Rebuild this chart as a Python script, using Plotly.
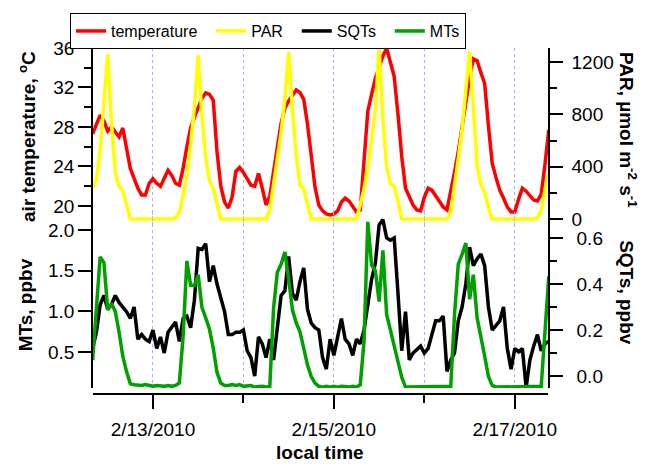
import plotly.graph_objects as go
import pandas as pd

# hourly time grid, 2010-02-12 08:00 .. 2010-02-17 09:00
time = pd.date_range("2010-02-12 08:00", periods=122, freq="h")

temperature = [
    27.3, 28.2, 29.2, 28.6, 27.6, 28.0, 27.5, 27.0, 27.9, 26.0, 23.8, 22.8,
    21.8, 21.1, 21.1, 22.3, 22.75, 22.3, 22.0, 22.8, 23.6, 23.1, 22.3, 22.1,
    23.8, 26.0, 27.9, 29.0, 30.0, 30.9, 31.45, 31.3, 30.7, 25.5, 22.0, 20.4,
    19.8, 20.9, 23.5, 23.9, 23.4, 22.8, 22.1, 22.0, 23.3, 21.8, 20.1, 21.0,
    23.5, 26.2, 28.4, 29.9, 30.65, 31.2, 31.75, 31.5, 30.8, 28.3, 25.1, 21.9,
    20.1, 19.5, 19.2, 19.1, 19.2, 19.5, 20.4, 20.8, 20.5, 19.9, 19.4, 19.6,
    25.0, 29.6, 31.3, 32.9, 34.0, 35.2, 35.97, 34.5, 33.1, 29.3, 25.0, 21.8,
    21.0, 20.1, 19.6, 19.5, 20.9, 21.8, 21.6, 21.0, 20.45, 19.9, 19.6, 21.3,
    23.4, 25.5, 28.1, 30.6, 33.0, 34.9, 34.7, 33.5, 32.4, 28.1, 24.3, 22.9,
    21.6, 20.8, 19.9, 19.4, 19.4, 20.7, 21.8, 21.5, 21.1, 20.6, 20.5, 21.2,
    24.2, 27.7,
]

par = [
    240, 300, 530, 914, 1260, 730, 360, 250, 215, 110, 0, 0,
    0, 0, 0, 0, 0, 0, 0, 0, 0, 0, 10, 50,
    182, 340, 572, 851, 1253, 780, 470, 290, 235, 127, 0, 0,
    0, 0, 0, 0, 0, 0, 0, 0, 0, 0, 0, 69,
    270, 465, 660, 918, 1280, 833, 480, 260, 230, 110, 0, 0,
    0, 0, 0, 0, 0, 0, 0, 0, 0, 0, 0, 110,
    230, 390, 595, 830, 1305, 760, 400, 270, 250, 140, 0, 0,
    0, 0, 0, 0, 0, 0, 0, 0, 0, 0, 0, 50,
    240, 460, 690, 1000, 1280, 850, 400, 268, 200, 90, 0, 0,
    0, 0, 0, 0, 0, 0, 0, 0, 0, 0, 10, 65,
    220, 362,
]

sqts = [
    0.12, 0.19, 0.31, 0.35, 0.29, 0.31, 0.35, 0.32, 0.30, 0.28, 0.25, 0.30,
    0.16, 0.18, 0.16, 0.15, 0.20, 0.12, 0.17, 0.10, 0.19, 0.215, 0.235, 0.15,
    0.25, 0.26, 0.21, 0.33, 0.555, 0.55, 0.575, 0.41, 0.48, 0.40, 0.34, 0.28,
    0.18, 0.18, 0.19, 0.19, 0.20, 0.11, 0.08, 0.00, 0.17, 0.14, 0.08, 0.16,
    0.07, 0.20, 0.35, 0.37, 0.52, 0.36, 0.33, 0.41, 0.47, 0.29, 0.23, 0.21,
    0.20, 0.08, 0.03, 0.16, 0.09, 0.17, 0.25, 0.16, 0.14, 0.09, 0.16, 0.14,
    0.20, 0.31, 0.42, 0.49, 0.657, 0.68, 0.60, 0.59, 0.60, 0.36, 0.11, 0.28,
    0.07, 0.10, 0.115, 0.13, 0.10, 0.12, 0.18, 0.24, 0.24, 0.26, 0.02, 0.07,
    0.10, 0.24, 0.30, 0.40, 0.56, 0.48, 0.51, 0.53, 0.48, 0.30, 0.20, 0.22,
    0.24, 0.30, 0.12, 0.03, 0.12, 0.105, 0.12, -0.05, 0.07, 0.13, 0.18, 0.11,
    0.14, 0.15,
]

mts = [
    0.40, 1.07, 1.67, 1.60, 1.02, 1.10, 1.00, 0.75, 0.45, 0.26, 0.11, 0.10,
    0.09, 0.09, 0.10, 0.09, 0.08, 0.09, 0.08, 0.08, 0.09, 0.08, 0.09, 0.12,
    0.69, 1.62, 1.32, 1.32, 1.45, 1.05, 0.92, 0.78, 0.55, 0.25, 0.12, 0.09,
    0.09, 0.10, 0.09, 0.10, 0.08, 0.08, 0.09, 0.07, 0.08, 0.08, 0.07, 0.08,
    1.04, 1.48, 1.58, 1.73, 1.40, 1.02, 0.86, 0.75, 0.55, 0.34, 0.20, 0.12,
    0.08, 0.07, 0.08, 0.07, 0.08, 0.07, 0.08, 0.07, 0.07, 0.08, 0.07, 0.10,
    0.63, 2.10, 1.57, 1.50, 1.12, 1.75, 0.96, 0.77, 0.57, 0.36, 0.19, 0.07,
    0.07, 0.08, 0.07, 0.08, 0.07, 0.07, 0.08, 0.07, 0.07, 0.08, 0.07, 0.08,
    0.96, 1.58, 1.70, 1.84, 1.15, 1.45, 0.92, 0.70, 0.45, 0.20, 0.09, 0.07,
    0.07, 0.08, 0.07, 0.07, 0.08, 0.07, 0.08, 0.07, 0.07, 0.08, 0.07, 0.08,
    0.75, 1.43,
]

major_days = ["2010-02-13", "2010-02-15", "2010-02-17"]
major_labels = ["2/13/2010", "2/15/2010", "2/17/2010"]
minor_days = ["2010-02-14", "2010-02-16"]

FONT = "Liberation Sans, Arial, sans-serif"
LW = 3.5
PAD = "\u00a0\u00a0"

fig = go.Figure()
fig.add_trace(go.Scatter(x=time, y=temperature, name="temperature" + PAD, mode="lines",
                         line=dict(color="#ff0000", width=LW), xaxis="x", yaxis="y"))
fig.add_trace(go.Scatter(x=time, y=par, name="PAR" + PAD, mode="lines",
                         line=dict(color="#ffff00", width=LW), xaxis="x", yaxis="y2"))
fig.add_trace(go.Scatter(x=time, y=sqts, name="SQTs" + PAD, mode="lines",
                         line=dict(color="#000000", width=LW), xaxis="x", yaxis="y3"))
fig.add_trace(go.Scatter(x=time, y=mts, name="MTs", mode="lines",
                         line=dict(color="#00a000", width=LW), xaxis="x", yaxis="y4"))

axis_common = dict(showline=True, linecolor="black", linewidth=1.5, ticks="outside",
                   tickcolor="black", tickwidth=1.5, showgrid=False, zeroline=False,
                   tickfont=dict(family=FONT, size=19, color="black"))

grid_col = "#a9b0f5"
fig.update_layout(
    width=647, height=464,
    margin=dict(l=93, r=99, t=48, b=70),
    paper_bgcolor="white", plot_bgcolor="rgba(0,0,0,0)",
    font=dict(family=FONT, color="black"),
    showlegend=True,
    legend=dict(orientation="h", x=-0.0505, y=1.101, xanchor="left", yanchor="top",
                bordercolor="black", borderwidth=1, bgcolor="white",
                font=dict(family=FONT, size=16, color="black"),
                itemwidth=30, traceorder="normal"),
    xaxis=dict(
        anchor="free", position=0, domain=[0, 1],
        range=["2010-02-12 08:06", "2010-02-17 08:48"],
        tickmode="array", tickvals=major_days, ticktext=major_labels,
        showline=True, linecolor="black", linewidth=1.5,
        ticks="outside", ticklen=14, tickwidth=1.5, tickcolor="black",
        ticklabelstandoff=4,
        tickfont=dict(family=FONT, size=19, color="black"),
        showgrid=True, gridcolor=grid_col, griddash="dot", gridwidth=1,
        zeroline=False,
        minor=dict(tickmode="array", tickvals=minor_days, ticks="outside", ticklen=8,
                   tickwidth=1.5, tickcolor="black", showgrid=True,
                   gridcolor=grid_col, griddash="dot", gridwidth=1),
    ),
    yaxis=dict(domain=[0.4855, 1], range=[17.97, 36.0], side="left", anchor="x",
               tickmode="array", tickvals=[20, 24, 28, 32, 36], ticklen=13,
               minor=dict(tickmode="array", tickvals=[22, 26, 30, 34], ticks="outside",
                          ticklen=7, tickwidth=1.5, tickcolor="black"),
               **axis_common),
    yaxis2=dict(overlaying="y", range=[-53.5, 1307], side="right", anchor="x",
                tickmode="array", tickvals=[0, 400, 800, 1200], ticklen=13,
                ticklabelstandoff=5,
                minor=dict(tickmode="array", tickvals=[200, 600, 1000], ticks="outside",
                           ticklen=7, tickwidth=1.5, tickcolor="black"),
                **axis_common),
    yaxis3=dict(domain=[0.01734, 0.526], range=[-0.052, 0.713], side="right", anchor="x",
                tickmode="array", tickvals=[0.0, 0.2, 0.4, 0.6], ticktext=["0.0", "0.2", "0.4", "0.6"],
                ticklen=13, ticklabelstandoff=10,
                minor=dict(tickmode="array", tickvals=[0.1, 0.3, 0.5], ticks="outside",
                           ticklen=7, tickwidth=1.5, tickcolor="black"),
                **axis_common),
    yaxis4=dict(overlaying="y3", range=[0.059, 2.221], side="left", anchor="x",
                tickmode="array", tickvals=[0.5, 1.0, 1.5, 2.0], ticktext=["0.5", "1.0", "1.5", "2.0"],
                ticklen=13, **axis_common),
)

title_font = dict(family=FONT, size=19, color="black")
ann = [
    dict(text="<b>air temperature, <sup>o</sup>C</b>", x=-0.145, y=0.743, textangle=-90),
    dict(text="<b>MTs, ppbv</b>", x=-0.149, y=0.257, textangle=-90),
    dict(text="<b>PAR, µmol m<sup>-2</sup> s<sup>-1</sup></b>", x=1.176, y=0.763, textangle=90),
    dict(text="<b>SQTs, ppbv</b>", x=1.171, y=0.292, textangle=90),
    dict(text="<b>local time</b>", x=0.499, y=-0.168, textangle=0),
]
for a in ann:
    fig.add_annotation(xref="paper", yref="paper", showarrow=False,
                       xanchor="center", yanchor="middle", font=title_font, **a)

fig.write_html("out.html")
